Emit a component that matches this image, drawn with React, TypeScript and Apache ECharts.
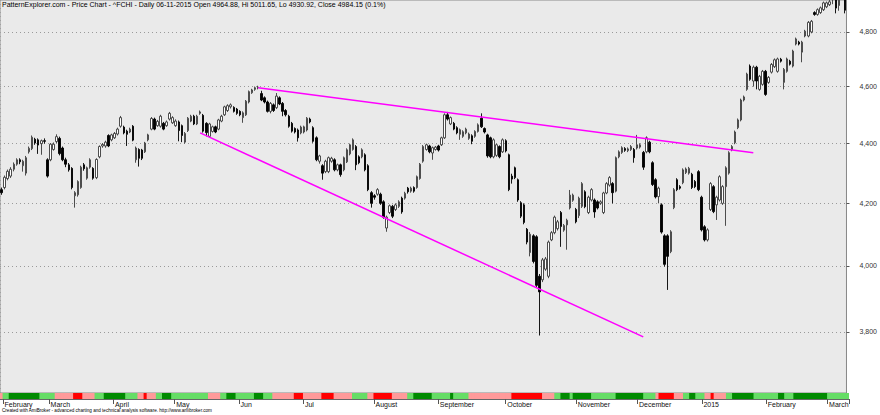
import React, { useEffect, useRef } from 'react';
import * as echarts from 'echarts';

const titleText = 'PatternExplorer.com - Price Chart - ^FCHI - Daily 06-11-2015 Open 4964.88, Hi 5011.65, Lo 4930.92, Close 4984.15 (0.1%)';
const footerText = 'Created with AmiBroker - advanced charting and technical analysis software. http://www.amibroker.com';

const monthLabels = ['', 'February', 'March', 'April', 'May', 'Jun', 'Jul', 'August', 'September', 'October', 'November', 'December', '2015', 'February', 'March'];
const monthBars = [1, 15, 21, 20, 21, 21, 23, 21, 22, 23, 20, 21, 21, 20, 7];

const yTicks = [3800, 4000, 4200, 4400, 4600, 4800];

const opens = [
  4245,4252,4282,4290,4313,4330,4345,4325,4300,4372,4383,4415,4413,4400,4410,4345,4345,4380,4407,4418,
  4385,4345,4328,4316,4225,4228,4252,4328,4283,4320,4316,4285,4355,4392,4392,4428,4413,4420,4433,4460,
  4457,4443,4440,4460,4345,4380,4378,4372,4413,4450,4485,4462,4460,4470,4462,4485,4472,4462,4475,4462,
  4405,4445,4478,4495,4468,4505,4498,4470,4425,4442,4458,4450,4478,4500,4515,4528,4526,4520,4512,4490,
  4500,4545,4578,4590,4596,4575,4560,4545,4512,4535,4525,4560,4540,4515,4495,4470,4452,4447,4437,4440,
  4447,4485,4455,4420,4340,4325,4305,4305,4340,4345,4311,4328,4311,4338,4365,4380,4390,4355,4355,4362,
  4325,4235,4225,4230,4230,4205,4120,4170,4190,4180,4190,4217,4217,4250,4240,4252,4252,4282,4340,4380,
  4392,4368,4380,4392,4396,4420,4500,4468,4470,4455,4432,4425,4437,4418,4427,4425,4442,4488,4452,4430,
  4420,4355,4360,4390,4372,4410,4362,4290,4318,4278,4202,4195,4116,4042,4095,4092,3968,3957,3990,3968,
  4082,4105,4118,4170,4113,4130,4185,4210,4180,4160,4190,4238,4170,4211,4211,4205,4200,4170,4234,4260,
  4265,4240,4355,4370,4383,4376,4380,4380,4385,4388,4370,4372,4405,4335,4278,4222,4195,4095,4095,4045,
  4186,4278,4255,4268,4302,4300,4296,4272,4305,4220,4124,4082,4180,4255,4195,4211,4200,4255,4300,4379,
  4403,4455,4482,4552,4590,4674,4620,4670,4590,4608,4655,4615,4652,4672,4655,4699,4615,4655,4692,4674,
  4755,4762,4725,4785,4785,4800,4873,4866,4873,4884,4895,4903,4925,4960,4900,4940,4950
];
const closes = [
  4235,4286,4306,4313,4330,4345,4338,4340,4352,4384,4422,4402,4395,4410,4408,4290,4398,4398,4424,4366,
  4345,4330,4311,4252,4235,4272,4320,4315,4318,4345,4283,4346,4390,4397,4405,4392,4430,4435,4450,4490,
  4437,4432,4450,4412,4385,4350,4350,4402,4430,4487,4450,4477,4495,4450,4475,4505,4490,4478,4445,4428,
  4435,4488,4495,4468,4495,4510,4443,4438,4468,4458,4440,4482,4495,4528,4532,4535,4512,4505,4500,4507,
  4548,4582,4588,4596,4598,4552,4545,4512,4540,4515,4566,4538,4512,4500,4460,4443,4440,4420,4457,4458,
  4488,4475,4408,4345,4358,4300,4340,4352,4350,4311,4328,4295,4352,4379,4396,4413,4328,4335,4379,4311,
  4245,4200,4220,4245,4200,4155,4155,4192,4158,4195,4205,4172,4233,4238,4250,4240,4288,4330,4390,4396,
  4372,4386,4388,4378,4420,4500,4485,4490,4450,4437,4448,4441,4450,4433,4408,4442,4465,4458,4440,4358,
  4355,4413,4396,4355,4413,4375,4245,4280,4285,4211,4158,4138,4075,4100,4014,3940,3920,4019,4022,4075,
  4105,4155,4140,4125,4128,4145,4227,4227,4140,4217,4265,4189,4220,4245,4172,4185,4205,4234,4265,4285,
  4235,4352,4372,4386,4377,4382,4390,4352,4396,4396,4320,4420,4372,4262,4221,4250,4107,4005,4030,4108,
  4245,4245,4250,4311,4314,4316,4252,4255,4245,4114,4082,4114,4265,4173,4220,4288,4255,4318,4369,4390,
  4440,4482,4552,4563,4645,4626,4670,4620,4637,4655,4572,4633,4680,4697,4700,4692,4662,4700,4681,4729,
  4774,4755,4762,4803,4836,4840,4866,4884,4891,4910,4910,4914,4955,4890,4950,4975,4881.95
];
const lows = [
  4228,4246,4276,4284,4306,4325,4330,4305,4292,4366,4378,4396,4365,4362,4400,4285,4340,4376,4402,4360,
  4340,4320,4305,4246,4186,4222,4248,4308,4278,4315,4278,4280,4350,4386,4386,4388,4408,4416,4428,4455,
  4432,4392,4436,4408,4335,4322,4344,4368,4408,4446,4446,4458,4455,4446,4458,4480,4468,4458,4408,4405,
  4400,4440,4474,4464,4464,4500,4438,4425,4420,4438,4436,4446,4474,4496,4510,4522,4508,4500,4495,4472,
  4496,4540,4574,4585,4590,4548,4540,4508,4505,4510,4520,4534,4495,4494,4455,4438,4435,4407,4432,4435,
  4442,4470,4403,4340,4332,4278,4300,4300,4335,4306,4306,4288,4306,4334,4360,4376,4310,4330,4350,4306,
  4240,4186,4212,4225,4195,4150,4108,4165,4152,4175,4185,4166,4212,4232,4235,4235,4248,4278,4335,4376,
  4367,4345,4376,4373,4392,4416,4480,4464,4446,4432,4413,4420,4432,4413,4398,4420,4438,4454,4435,4352,
  4350,4350,4355,4350,4368,4370,4240,4265,4280,4205,4152,4132,4068,4030,4008,3934,3789,3950,3985,3962,
  4078,4100,4112,4060,4108,4051,4180,4205,4135,4152,4185,4184,4165,4206,4153,4180,4195,4165,4230,4255,
  4200,4236,4350,4365,4372,4371,4375,4335,4380,4383,4311,4367,4367,4257,4216,4200,4102,3998,3926,4040,
  4181,4240,4245,4263,4297,4295,4247,4250,4240,4109,4077,4077,4175,4168,4146,4206,4195,4127,4295,4374,
  4398,4450,4477,4547,4585,4621,4600,4590,4585,4603,4567,4610,4647,4667,4650,4687,4590,4650,4676,4669,
  4750,4750,4688,4780,4780,4795,4861,4861,4868,4879,4890,4898,4905,4870,4880,4925,4870
];
const highs = [
  4252,4292,4312,4320,4336,4350,4350,4345,4358,4390,4428,4420,4418,4414,4418,4350,4402,4404,4432,4424,
  4390,4352,4334,4320,4240,4276,4325,4334,4322,4350,4320,4350,4394,4402,4410,4432,4434,4440,4455,4496,
  4462,4448,4455,4464,4390,4384,4382,4406,4434,4492,4490,4482,4500,4475,4480,4510,4495,4484,4480,4466,
  4440,4492,4500,4500,4500,4515,4503,4474,4472,4462,4462,4486,4500,4532,4537,4540,4530,4524,4516,4512,
  4552,4586,4592,4600,4603,4585,4565,4550,4545,4540,4577,4565,4545,4520,4500,4475,4456,4452,4462,4462,
  4492,4490,4460,4425,4362,4330,4345,4356,4355,4350,4332,4332,4356,4384,4400,4418,4395,4360,4384,4367,
  4330,4240,4230,4250,4235,4210,4160,4196,4195,4200,4210,4222,4238,4254,4255,4256,4292,4334,4395,4400,
  4396,4390,4392,4396,4424,4505,4510,4494,4475,4460,4452,4446,4455,4438,4432,4446,4470,4505,4456,4434,
  4424,4418,4400,4394,4418,4415,4366,4298,4322,4282,4207,4200,4120,4107,4100,4097,3975,4025,4028,4080,
  4110,4160,4146,4175,4133,4150,4244,4232,4185,4222,4270,4243,4225,4250,4216,4210,4210,4238,4270,4290,
  4270,4356,4377,4391,4388,4387,4395,4385,4430,4401,4375,4425,4410,4340,4283,4255,4200,4100,4100,4113,
  4250,4283,4260,4316,4319,4321,4301,4277,4310,4225,4129,4119,4270,4260,4225,4293,4260,4323,4374,4395,
  4445,4487,4557,4568,4650,4680,4676,4675,4642,4660,4660,4638,4685,4702,4705,4704,4667,4705,4697,4734,
  4779,4767,4767,4808,4841,4845,4878,4889,4896,4915,4915,4925,4965,4975,4960,5000,4960
];

// ribbon runs: G dark green, g light green, R red, p pink
const ribbonRuns: [string, number][] = [
  ['p',1],['g',2],['G',10],['g',5],['p',6],['R',3],['p',4],['g',3],['G',7],['g',4],
  ['p',2],['R',1],['p',3],['g',2],['G',3],['g',12],['p',4],['g',2],['G',3],['g',6],
  ['G',3],['g',3],['p',7],['R',3],['p',6],['R',4],['p',6],['g',5],['p',2],['R',6],
  ['p',5],['g',2],['G',6],['g',6],['G',1],['g',5],['p',14],['R',10],['p',4],['g',2],
  ['G',3],['g',1],['G',6],['g',8],['G',9],['g',4],['p',1],['R',5],['p',3],['g',2],
  ['G',2],['g',3],['p',2],['R',1],['p',4],['g',2],['G',7],['g',8],['G',2],['g',3],
  ['G',11],['g',7]
];
const ribbonColors: Record<string, string> = { G: '#008a00', g: '#66dd66', R: '#ff0000', p: '#ff9a9a' };

// upper and lower trend lines: [barIndex, price]
const upperTrend: [number, number][] = [[84, 4596], [246, 4369]];
const lowerTrend: [number, number][] = [[65, 4437], [210, 3785]];

const FONT = '"Liberation Sans", Arial, sans-serif';

export default function App() {
  const ref = useRef<HTMLDivElement>(null);
  useEffect(() => {
    if (!ref.current) return;
    const chart = echarts.init(ref.current, undefined, { renderer: 'svg' });

    const categories: string[] = [];
    const labelAt: Record<number, string> = {};
    monthBars.forEach((n, mi) => {
      for (let k = 0; k < n; k++) {
        if (k === 0 && monthLabels[mi]) labelAt[categories.length] = monthLabels[mi];
        categories.push(mi + ':' + k);
      }
    });
    const yearIdx = monthBars.slice(0, monthLabels.indexOf('2015')).reduce((a, b) => a + b, 0);
    const isStart = (i: number) => labelAt[i] !== undefined;

    const candleData = opens.map((o, i) => [o, closes[i], lows[i], highs[i]]);
    const ribbon: any[] = [];
    ribbonRuns.forEach(([c, n]) => {
      for (let k = 0; k < n; k++) ribbon.push({ value: 1, itemStyle: { color: ribbonColors[c] } });
    });
    const last = closes[closes.length - 1];
    const fmt = (v: number) => v.toLocaleString('en-US');

    const trendStyle = { color: '#ff00ff', width: 1.5, type: 'solid' as const };

    chart.setOption({
      animation: false,
      backgroundColor: '#ffffff',
      textStyle: { fontFamily: FONT },
      title: [
        { text: titleText, left: 1, top: 0, padding: 1, textStyle: { fontSize: 7, fontWeight: 'normal', color: '#000', fontFamily: FONT } },
        { text: footerText, left: 1, top: 407, padding: 1, textStyle: { fontSize: 4.6, fontWeight: 'normal', color: '#000', fontFamily: FONT } },
      ],
      grid: [
        { left: 0, right: 31, top: 0, height: 393, show: true, backgroundColor: '#eaeaea', borderColor: '#8a8a8a', borderWidth: 1 },
        { left: 0, right: 31, top: 393, height: 6, show: false },
      ],
      xAxis: [
        {
          type: 'category', gridIndex: 0, data: categories, boundaryGap: true,
          axisLine: { show: false }, axisTick: { show: false }, axisLabel: { show: false },
          splitLine: { show: true, interval: (i: number) => i === yearIdx, lineStyle: { color: '#a0a0a0', type: [1, 3] } },
        },
        {
          type: 'category', gridIndex: 1, data: categories, boundaryGap: true,
          axisLine: { show: true, lineStyle: { color: '#666' } },
          axisTick: { show: true, length: 5, interval: (i: number) => isStart(i), lineStyle: { color: '#555' } },
          axisLabel: {
            show: true, interval: (i: number) => isStart(i), formatter: (_v: string, i: number) => labelAt[i] || '',
            align: 'left', margin: 2, fontSize: 7, color: '#111', fontFamily: FONT,
          },
          splitLine: { show: false },
        },
      ],
      yAxis: [
        {
          type: 'log', logBase: 10, gridIndex: 0, position: 'right', min: 3623, max: 4921,
          axisLine: { show: true, lineStyle: { color: '#8a8a8a' } },
          axisTick: { show: true, length: 3, customValues: yTicks, lineStyle: { color: '#555' } },
          axisLabel: { show: true, customValues: yTicks, formatter: (v: number) => fmt(v), margin: 13, fontSize: 7, color: '#333', fontFamily: FONT },
          splitLine: { show: true, lineStyle: { color: '#9a9a9a', type: [1, 3] } },
        },
        { type: 'value', gridIndex: 1, min: 0, max: 1, show: false },
      ],
      series: [
        {
          type: 'candlestick', xAxisIndex: 0, yAxisIndex: 0, data: candleData, barWidth: 2,
          itemStyle: { color: '#ffffff', color0: '#000000', borderColor: '#3a3a3a', borderColor0: '#000000', borderWidth: 0.9 },
          markLine: {
            silent: true, symbol: ['none', 'none'], animation: false,
            label: { show: false },
            data: [
              [
                { coord: [categories[upperTrend[0][0]], upperTrend[0][1]], lineStyle: trendStyle },
                { coord: [categories[upperTrend[1][0]], upperTrend[1][1]] },
              ],
              [
                { coord: [categories[lowerTrend[0][0]], lowerTrend[0][1]], lineStyle: trendStyle },
                { coord: [categories[lowerTrend[1][0]], lowerTrend[1][1]] },
              ],
              {
                yAxis: last, lineStyle: { opacity: 0, width: 0 },
                label: {
                  show: true, position: 'end', distance: 0, formatter: () => last.toLocaleString('en-US', { minimumFractionDigits: 2 }),
                  backgroundColor: '#000', color: '#fff', padding: [1, 2, 1, 5], fontSize: 7, fontFamily: FONT,
                },
              },
            ],
          },
        },
        {
          type: 'bar', xAxisIndex: 1, yAxisIndex: 1, data: ribbon, barWidth: 4, barCategoryGap: 0,
        },
      ],
    });
    return () => chart.dispose();
  }, []);
  return <div ref={ref} style={{ position: 'absolute', left: 0, top: 0, width: 880, height: 415 }} />;
}
